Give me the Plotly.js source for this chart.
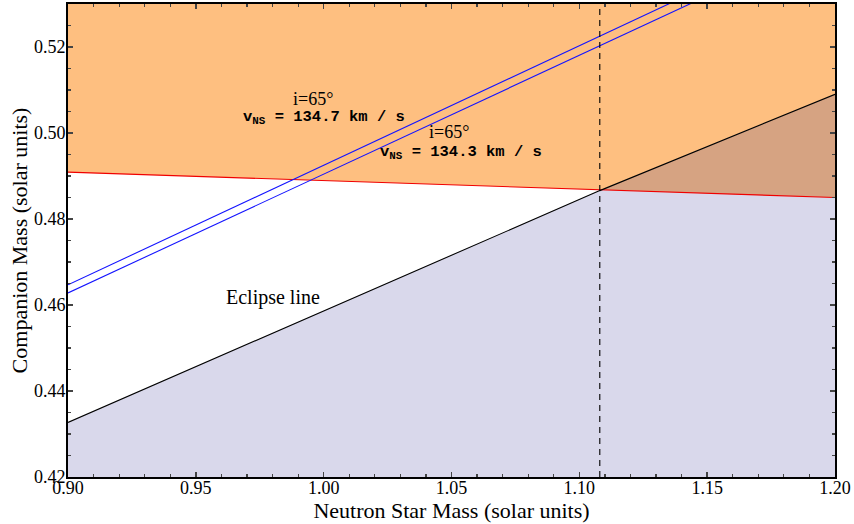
<!DOCTYPE html>
<html>
<head>
<meta charset="utf-8">
<script src="https://cdn.plot.ly/plotly-3.0.1.min.js"></script>
<style>html,body{margin:0;padding:0;background:#fff;}#chart{width:854px;height:524px;}</style>
</head>
<body>
<div id="chart"></div>
<script>
// Data
const nsMass = [0.90, 1.20];                 // neutron star mass (x endpoints)
const redLimit = [0.4909, 0.4850];           // red constraint line
const eclipseMass = [0.90, 1.108, 1.20];     // eclipse line x
const eclipseLine = [0.4327, 0.4866, 0.5090];// eclipse line y
const vns1347 = [0.4647, 0.5481];            // i=65°, v_NS = 134.7 km/s
const vns1343 = [0.4628, 0.5457];            // i=65°, v_NS = 134.3 km/s
const dashedMass = 1.108;                    // vertical dashed line
const xRange = [0.90, 1.20];
const yRange = [0.42, 0.53];
const labels = {
  i1: "i=65°", v1: "134.7 km / s",
  i2: "i=65°", v2: "134.3 km / s",
  eclipse: "Eclipse line"
};

// red line value at x
const sR = (redLimit[1]-redLimit[0])/(nsMass[1]-nsMass[0]);
const redAt = x => redLimit[0] + sR*(x-nsMass[0]);
// find intersection of red with eclipse polyline
let xi = eclipseMass[1], yi = eclipseLine[1], segEnd = 1;
for (let k=0; k<eclipseMass.length-1; k++) {
  const x0=eclipseMass[k], x1=eclipseMass[k+1], y0=eclipseLine[k], y1=eclipseLine[k+1];
  const d0 = y0-redAt(x0), d1 = y1-redAt(x1);
  if (d0 <= 0 && d1 >= 0) {
    const t = -d0/(d1-d0);
    xi = x0 + t*(x1-x0); yi = y0 + t*(y1-y0); segEnd = k+1; break;
  }
}
const brownX = [xi].concat(eclipseMass.slice(segEnd), [nsMass[1]]);
const brownY = [yi].concat(eclipseLine.slice(segEnd), [redLimit[1]]);

const traces = [
  {x:[nsMass[0],nsMass[1],nsMass[1],nsMass[0]], y:[redLimit[0],redLimit[1],yRange[1],yRange[1]],
   fill:'toself', fillcolor:'rgb(254,191,128)', line:{width:0}, mode:'lines', hoverinfo:'skip'},
  {x:eclipseMass.concat([xRange[1], xRange[0]]), y:eclipseLine.concat([yRange[0], yRange[0]]),
   fill:'toself', fillcolor:'rgb(217,216,235)', line:{width:0}, mode:'lines', hoverinfo:'skip'},
  {x:brownX, y:brownY,
   fill:'toself', fillcolor:'rgb(214,163,130)', line:{width:0}, mode:'lines', hoverinfo:'skip'},
  {x:nsMass, y:redLimit, mode:'lines', line:{color:'rgb(240,0,0)', width:1.1}},
  {x:eclipseMass, y:eclipseLine, mode:'lines', line:{color:'black', width:1.1}},
  {x:nsMass, y:vns1347, mode:'lines', line:{color:'rgb(20,20,255)', width:1.1}},
  {x:nsMass, y:vns1343, mode:'lines', line:{color:'rgb(20,20,255)', width:1.1}},
  {x:[dashedMass,dashedMass], y:yRange, mode:'lines', line:{color:'black', width:1.1, dash:'6px,5px'}}
];

const serif = 'Liberation Serif, Times New Roman, serif';
const mono = 'Liberation Mono, Courier New, monospace';

const layout = {
  width:854, height:524,
  margin:{l:68, r:19, t:4, b:47},
  showlegend:false,
  paper_bgcolor:'white', plot_bgcolor:'white',
  font:{family:serif, color:'black'},
  xaxis:{range:xRange, dtick:0.05, tick0:0.9, tickformat:'.2f', ticks:'inside', ticklen:5, tickwidth:1.5,
    showline:true, linewidth:2, linecolor:'black', mirror:'ticks', showgrid:false, zeroline:false,
    tickfont:{size:18, family:serif}, ticklabelstandoff:-7,
    minor:{dtick:0.01, ticks:'inside', ticklen:3, tickwidth:1.2, showgrid:false},
    title:{text:'Neutron Star Mass (solar units)', font:{size:22, family:serif}, standoff:0}},
  yaxis:{range:yRange, dtick:0.02, tick0:0.42, tickformat:'.2f', ticks:'inside', ticklen:5, tickwidth:1.5,
    showline:true, linewidth:2, linecolor:'black', mirror:'ticks', showgrid:false, zeroline:false,
    tickfont:{size:18, family:serif}, ticklabelstandoff:-3,
    minor:{dtick:0.005, ticks:'inside', ticklen:3, tickwidth:1.2, showgrid:false},
    title:{text:'Companion Mass (solar units)', font:{size:22, family:serif}, standoff:0}},
  annotations:[
    {x:0.9958, y:0.5079, text:labels.i1, showarrow:false, font:{size:18, family:serif}},
    {x:1.0000, y:0.5036, text:'<b>v<sub>NS</sub> = '+labels.v1+'</b>', showarrow:false, font:{size:15.5, family:mono}},
    {x:1.049, y:0.5003, text:labels.i2, showarrow:false, font:{size:18, family:serif}},
    {x:1.0536, y:0.49550, text:'<b>v<sub>NS</sub> = '+labels.v2+'</b>', showarrow:false, font:{size:15.5, family:mono}},
    {x:0.9802, y:0.4617, text:labels.eclipse, showarrow:false, font:{size:20, family:serif}}
  ]
};

Plotly.newPlot('chart', traces, layout, {displayModeBar:false, staticPlot:true});
</script>
</body>
</html>
